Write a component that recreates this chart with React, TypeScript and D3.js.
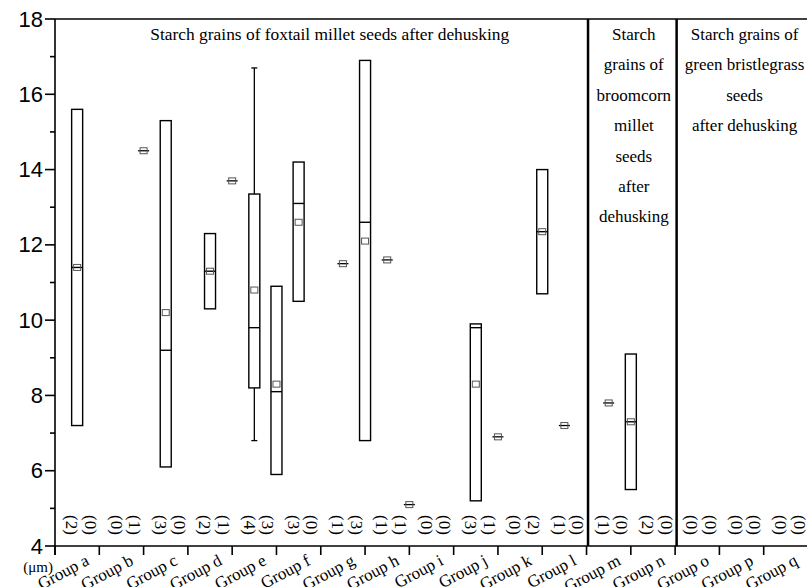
import React from 'react';
import * as d3 from 'd3';

// Sample groups along the x axis
const groups = [
  'Group a', 'Group b', 'Group c', 'Group d', 'Group e', 'Group f', 'Group g', 'Group h', 'Group i',
  'Group j', 'Group k', 'Group l', 'Group m', 'Group n', 'Group o', 'Group p', 'Group q',
];

// Number of grains measured, two columns per group
const counts = [
  2, 0, 0, 1, 3, 0, 2, 1, 4, 3, 3, 0, 1, 3, 1, 1, 0, 0,
  3, 1, 0, 2, 1, 0, 1, 0, 2, 0, 0, 0, 0, 0, 0, 0,
];

// Box columns: slot on the half-group grid, box range, median, mean
const boxSlots = [1, 5, 7, 9, 10, 11, 14, 19, 22, 26];
const boxLow = [7.2, 6.1, 10.3, 8.2, 5.9, 10.5, 6.8, 5.2, 10.7, 5.5];
const boxHigh = [15.6, 15.3, 12.3, 13.35, 10.9, 14.2, 16.9, 9.9, 14.0, 9.1];
const boxMedian = [11.4, 9.2, 11.3, 9.8, 8.1, 13.1, 12.6, 9.8, 12.35, 7.3];
const boxMean = [11.4, 10.2, 11.3, 10.8, 8.3, 12.6, 12.1, 8.3, 12.35, 7.3];
const whiskerLow: (number | null)[] = [null, null, null, 6.8, null, null, null, null, null, null];
const whiskerHigh: (number | null)[] = [null, null, null, 16.7, null, null, null, null, null, null];

// Single-grain measurements
const singleSlots = [4, 8, 13, 15, 16, 20, 23, 25];
const singleValues = [14.5, 13.7, 11.5, 11.6, 5.1, 6.9, 7.2, 7.8];

const yMajorTicks = [4, 6, 8, 10, 12, 14, 16, 18];
const yMinorTicks = [5, 7, 9, 11, 13, 15, 17];

// Panel captions: first group index of each panel, and the text lines
const panelStarts = [0, 12, 14, 17];
const panelLines = [
  ['Starch grains of foxtail millet seeds after dehusking'],
  ['Starch', 'grains of', 'broomcorn', 'millet', 'seeds', 'after', 'dehusking'],
  ['Starch grains of', 'green bristlegrass', 'seeds', 'after dehusking'],
];
const panelShift = [9, 3, 3];

const W = 807;
const H = 587;
const serif = '"Liberation Serif", "Times New Roman", serif';
const sans = '"Liberation Sans", Arial, sans-serif';

export default function App() {
  const slots = groups.length * 2;
  const x = d3.scaleLinear().domain([0, slots]).range([55, 808]);
  const y = d3.scaleLinear().domain([4, 18]).range([546, 19]);
  const groupW = x(2) - x(0);
  const boxW = 11;
  const capW = 6;

  return (
    <svg width={W} height={H} style={{ position: 'absolute', left: 0, top: 0, background: '#fff' }}>
      <rect width={W} height={H} fill="#fff" />

      {/* boxes */}
      {boxSlots.map((s, i) => {
        const cx = x(s);
        return (
          <g key={`b${i}`}>
            {whiskerHigh[i] != null && (
              <g stroke="#000" strokeWidth={1.3}>
                <line x1={cx} x2={cx} y1={y(boxHigh[i])} y2={y(whiskerHigh[i] as number)} />
                <line x1={cx - capW / 2} x2={cx + capW / 2} y1={y(whiskerHigh[i] as number)} y2={y(whiskerHigh[i] as number)} />
              </g>
            )}
            {whiskerLow[i] != null && (
              <g stroke="#000" strokeWidth={1.3}>
                <line x1={cx} x2={cx} y1={y(boxLow[i])} y2={y(whiskerLow[i] as number)} />
                <line x1={cx - capW / 2} x2={cx + capW / 2} y1={y(whiskerLow[i] as number)} y2={y(whiskerLow[i] as number)} />
              </g>
            )}
            <rect
              x={cx - boxW / 2}
              y={y(boxHigh[i])}
              width={boxW}
              height={y(boxLow[i]) - y(boxHigh[i])}
              fill="none"
              stroke="#000"
              strokeWidth={1.4}
            />
            <line x1={cx - boxW / 2} x2={cx + boxW / 2} y1={y(boxMedian[i])} y2={y(boxMedian[i])} stroke="#000" strokeWidth={1.4} />
            <rect x={cx - 3.5} y={y(boxMean[i]) - 3} width={7} height={6} fill="none" stroke="#555" strokeWidth={1} />
          </g>
        );
      })}

      {/* single measurements */}
      {singleSlots.map((s, i) => {
        const cx = x(s);
        const cy = y(singleValues[i]);
        return (
          <g key={`s${i}`}>
            <line x1={cx - boxW / 2} x2={cx + boxW / 2} y1={cy} y2={cy} stroke="#000" strokeWidth={1.3} />
            <rect x={cx - 3.5} y={cy - 3} width={7} height={6} fill="none" stroke="#555" strokeWidth={1} />
          </g>
        );
      })}

      {/* counts */}
      {counts.map((c, i) => {
        const g = Math.floor(i / 2);
        const cx = x(g * 2) + (i % 2 === 0 ? 0.38 : 0.8) * groupW;
        return (
          <text
            key={`c${i}`}
            transform={`translate(${cx},525) rotate(90)`}
            textAnchor="middle"
            dominantBaseline="central"
            fontFamily={serif}
            fontSize={17}
            fill="#000"
          >
            {`(${c})`}
          </text>
        );
      })}

      {/* panel separators */}
      {panelStarts.slice(1, -1).map((g) => (
        <line key={`p${g}`} x1={x(g * 2) + 1.5} x2={x(g * 2) + 1.5} y1={y(18)} y2={y(4)} stroke="#000" strokeWidth={2.5} />
      ))}

      {/* panel captions */}
      {panelLines.map((lines, p) => {
        const cx = (x(panelStarts[p] * 2) + x(panelStarts[p + 1] * 2)) / 2 + panelShift[p];
        return lines.map((t, k) => (
          <text
            key={`t${p}-${k}`}
            x={cx}
            y={40 + k * 30.4}
            textAnchor="middle"
            fontFamily={serif}
            fontSize={p === 0 ? 17.4 : 17}
            fill="#000"
          >
            {t}
          </text>
        ));
      })}

      {/* frame */}
      <line x1={x(0)} x2={x(slots)} y1={y(18)} y2={y(18)} stroke="#000" strokeWidth={1.6} />
      <line x1={x(0)} x2={x(slots)} y1={y(4)} y2={y(4)} stroke="#000" strokeWidth={1.6} />
      <line x1={x(0)} x2={x(0)} y1={y(18)} y2={y(4) + 9} stroke="#000" strokeWidth={1.6} />

      {/* y axis */}
      {yMajorTicks.map((v) => (
        <g key={`ym${v}`}>
          <line x1={45} x2={55} y1={y(v)} y2={y(v)} stroke="#000" strokeWidth={1.6} />
          <text x={43} y={y(v)} textAnchor="end" dominantBaseline="central" fontFamily={sans} fontSize={22} fill="#000">
            {v}
          </text>
        </g>
      ))}
      {yMinorTicks.map((v) => (
        <line key={`yn${v}`} x1={50} x2={55} y1={y(v)} y2={y(v)} stroke="#000" strokeWidth={1.6} />
      ))}

      {/* x axis */}
      {d3.range(0, slots + 1, 2).map((s) => (
        <line key={`xt${s}`} x1={x(s)} x2={x(s)} y1={y(4)} y2={y(4) + 9} stroke="#000" strokeWidth={1.6} />
      ))}
      {groups.map((g, i) => (
        <text
          key={`xl${i}`}
          transform={`translate(${x(i * 2 + 1) + 13},564) rotate(-28)`}
          textAnchor="end"
          fontFamily={serif}
          fontSize={17}
          fill="#000"
        >
          {g}
        </text>
      ))}
      <text x={53} y={572} textAnchor="end" fontFamily={serif} fontSize={15} fill="#000">
        (μm)
      </text>
    </svg>
  );
}
